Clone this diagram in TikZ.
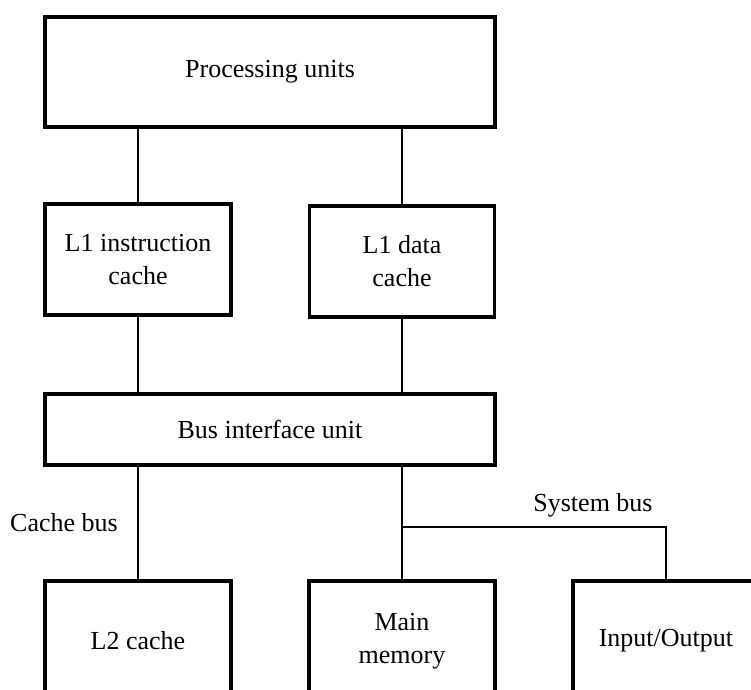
\documentclass[tikz,border=0pt]{standalone}
\usepackage{fontspec}
\setmainfont{Liberation Serif}
\usepackage{tikz}
\tikzset{
  unitbox/.style={draw=black,line width=1.8pt,inner sep=0pt,align=center},
  buswire/.style={line width=0.55pt},
  every picture/.style={font=\fontsize{13}{16.5}\selectfont}
}

\begin{document}
\begin{tikzpicture}[x=0.5pt,y=-0.5pt]
  \useasboundingbox (0,0) rectangle (751,690);
  \clip (0,0) rectangle (751,690);
  \node[unitbox,minimum width=225pt,minimum height=55pt] (pu) at (270,72) {Processing units};
  \node[unitbox,minimum width=93pt,minimum height=55.5pt] (l1i) at (138,259.5) {L1 instruction\\cache};
  \node[unitbox,minimum width=92.5pt,minimum height=55.5pt] (l1d) at (402,261.5) {L1 data\\cache};
  \node[unitbox,minimum width=225pt,minimum height=35.5pt] (biu) at (270,429.5) {Bus interface unit};
  \node[unitbox,minimum width=93pt,minimum height=60pt] (l2) at (138,641) {L2 cache};
  \node[unitbox,minimum width=93pt,minimum height=60pt] (mem) at (402,641) {Main\\memory};
  \node[unitbox,minimum width=93pt,minimum height=60pt] (io) at (666,641) {Input/Output};
  \coordinate (sysbus) at (402,527);
  \draw[buswire] (pu.south -| l1i.north) -- (l1i.north);
  \draw[buswire] (pu.south -| l1d.north) -- (l1d.north);
  \draw[buswire] (l1i.south) -- (l1i.south |- biu.north);
  \draw[buswire] (l1d.south) -- (l1d.south |- biu.north);
  \draw[buswire] (biu.south -| l2.north) -- (l2.north);
  \draw[buswire] (biu.south -| mem.north) -- (mem.north);
  \draw[buswire] (sysbus) -| (io.north);
  \node (cachebus) at (64,523) {Cache bus};
  \node (systembus) at (593,505) {System bus};
\end{tikzpicture}
\end{document}
